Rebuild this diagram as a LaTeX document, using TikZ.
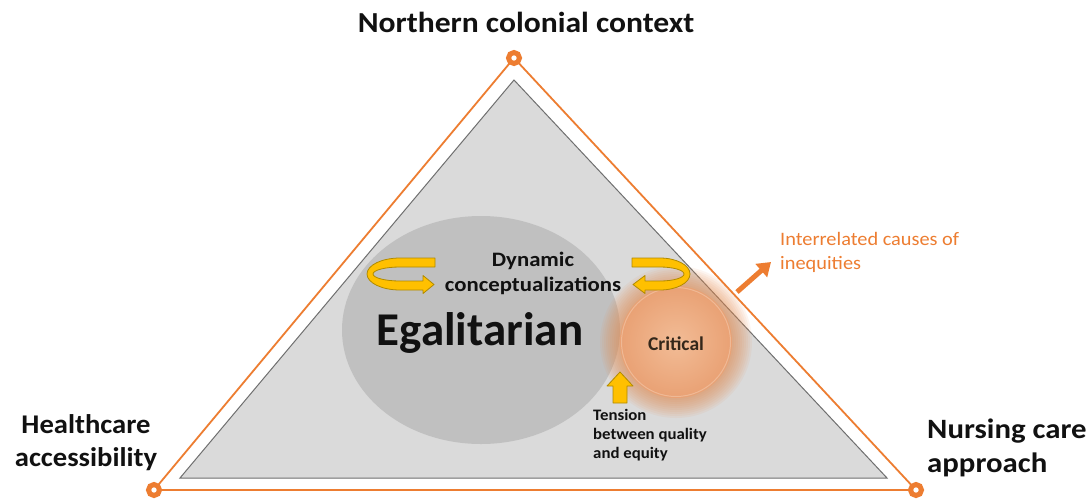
\documentclass[tikz,border=0pt]{standalone}
\usepackage{fontspec}
\setmainfont{Carlito}
\usetikzlibrary{arrows.meta}
\definecolor{org}{HTML}{ED7D31}
\definecolor{yel}{HTML}{FFC000}
\definecolor{yeld}{HTML}{B08A00}
\definecolor{trifill}{HTML}{DADADA}
\definecolor{triline}{HTML}{6F6F6F}
\definecolor{ellfill}{HTML}{C0C0C0}
\definecolor{critin}{HTML}{F2BC96}
\definecolor{critout}{HTML}{E9A174}
\definecolor{glow}{HTML}{E8894A}
\definecolor{txt}{HTML}{111111}
\tikzset{
  vring/.style={draw=org, fill=white, line width=5pt},
  bigtitle/.style={font=\bfseries\fontsize{27}{33}\selectfont, text=txt, inner sep=0pt},
  yarrow/.style={fill=yel, draw=yeld, line width=0.8pt, line join=round},
  small/.style={font=\bfseries\fontsize{16}{19}\selectfont, text=txt, inner sep=0pt},
}
\begin{document}
\begin{tikzpicture}[x=1pt,y=-1pt]
\useasboundingbox[fill=white] (0,0) rectangle (1089,501);
% outer orange triangle
\coordinate (top) at (514,58);
\coordinate (bl) at (154,490);
\coordinate (br) at (916,490);
\draw[org, line width=1.8pt] (top) -- (br) -- (bl) -- cycle;
% inner gray triangle
\coordinate (itop) at (514,80);
\coordinate (ibl) at (180,478);
\coordinate (ibr) at (887,478);
\filldraw[fill=trifill, draw=triline, line width=1pt] (itop) -- (ibr) -- (ibl) -- cycle;
\foreach \p in {top,bl,br} \draw[vring] (\p) circle (5.5);
% egalitarian ellipse
\fill[ellfill] (481,330) ellipse [x radius=139, y radius=114];
% critical glow
\foreach \r in {76,74,...,56} \fill[glow, opacity=0.08] (676,342) circle (\r);
\shade[inner color=critin, outer color=critout] (676,342) circle (56);
\draw[critin!70!white, opacity=0.5, line width=1pt] (676,342) circle (54.5);
\node[font=\bfseries\fontsize{19.5}{23}\selectfont, text=txt!80!brown] (crit) at (676,344) {Critical};
\node[font=\bfseries\fontsize{47}{50}\selectfont, text=txt, inner sep=0pt] (egal) at (480,333) {Egalitarian};
% dynamic conceptualizations
\node[font=\bfseries\fontsize{20.5}{25}\selectfont, text=txt, align=center, inner sep=0pt, xscale=1.11] (dyn) at (533,273) {Dynamic\\conceptualizations};
% rotating arrows
\fill[yarrow] (435,258) -- (400,258) arc[start angle=270, end angle=90, x radius=33, y radius=16]
  -- (423,290) -- (423,293.5) -- (434,284.5) -- (423,275.5) -- (423,281) -- (400,281)
  arc[start angle=90, end angle=270, x radius=27, y radius=7] -- (435,267) -- cycle;
\fill[yarrow] (632,258) -- (660,258) arc[start angle=-90, end angle=90, x radius=30, y radius=16]
  -- (645,290) -- (645,293.5) -- (633,284.5) -- (645,275.5) -- (645,281) -- (660,281)
  arc[start angle=90, end angle=-90, x radius=24, y radius=7] -- (632,267) -- cycle;
% up arrow
\fill[yarrow] (620,372) -- (633,386) -- (627,386) -- (627,403) -- (613,403) -- (613,386) -- (607,386) -- cycle;
\node[small, align=left, anchor=north west, xscale=1.05] (tension) at (593,409) {Tension\\between quality\\and equity};
% interrelated causes
\node[font=\fontsize{19}{24}\selectfont, text=org, align=left, anchor=north west, inner sep=0pt, xscale=1.07] (inter) at (780,232) {Interrelated causes of\\inequities};
\coordinate (oarrs) at (737,292);
\coordinate (oarre) at (771,262);
\draw[org, line width=5pt, -{Triangle[length=13pt,width=17pt]}] (oarrs) -- (oarre);
% vertex labels
\node[bigtitle, font=\bfseries\fontsize{29}{33}\selectfont, xscale=1.09] (north) at (526,22) {Northern colonial context};
\node[bigtitle, align=center, xscale=1.06] (health) at (86,443) {Healthcare\\accessibility};
\node[bigtitle, font=\bfseries\fontsize{28}{34}\selectfont, align=left, anchor=west, xscale=1.1] (nurse) at (927,448) {Nursing care\\approach};
\end{tikzpicture}
\end{document}
